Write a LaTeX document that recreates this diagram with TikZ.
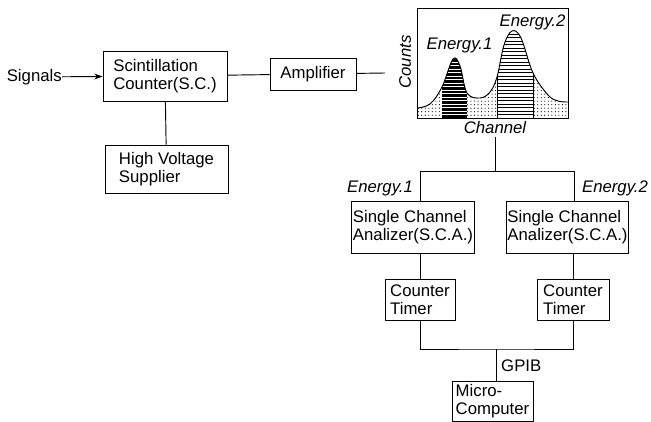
\documentclass[tikz,border=0pt]{standalone}
\usepackage{fontspec}
\setmainfont{Liberation Sans}
\usetikzlibrary{patterns,arrows.meta}
\tikzset{
  block/.style={draw,line width=0.8pt,align=left,inner sep=1pt,
    font=\fontsize{14.3}{15}\selectfont},
  wire/.style={draw,line width=0.8pt},
  tag/.style={font=\fontsize{14.3}{15}\selectfont\itshape,inner sep=0pt},
  plain/.style={font=\fontsize{14.3}{15}\selectfont,inner sep=0pt}
}

\begin{document}
\begin{tikzpicture}[x=0.03cm,y=-0.03cm]
  \useasboundingbox (0,0) rectangle (651,421);
  % front end
  \node[block,minimum width=3.72cm,minimum height=1.5cm] (sc) at (165,76)
    {Scintillation\\Counter(S.C.)};
  \node[block,minimum width=3.69cm,minimum height=1.44cm] (hv) at (166.5,169)
    {High Voltage\\Supplier};
  \node[block,minimum width=2.58cm,minimum height=0.96cm] (amp) at (313,74)
    {Amplifier};
  \node[plain,anchor=east] (sig) at (62,77) {Signals};
  \draw[wire,-{Stealth[length=7pt,width=5pt]}] (sig) -- (sc);
  \draw[wire] (sc) -- (amp);
  \draw[wire] (sc) -- (hv);
  \coordinate (ampend) at (385,73);
  \draw[wire] (amp) -- (ampend);

  % spectrum
  \begin{scope}
    \clip (417,118) -- plot[smooth,tension=0.6] coordinates {(417,108) (430,104)
      (442,87) (453,59) (460,66) (467,93) (480,98) (490,92) (497,77) (504,45)
      (512,31) (521,38) (533,73) (548,95) (558,101) (568,102)} -- (568,118) -- cycle;
    \fill[pattern=dots] (417,0) rectangle (568,118);
    \fill[black] (442,0) rectangle (467,118);
    \fill[pattern=horizontal lines,pattern color=white] (442,0) rectangle (467,118);
    \fill[white] (497,0) rectangle (533,118);
    \fill[pattern=horizontal lines] (497,0) rectangle (533,118);
  \end{scope}
  \draw[line width=0.8pt] plot[smooth,tension=0.6] coordinates {(417,108) (430,104)
      (442,87) (453,59) (460,66) (467,93) (480,98) (490,92) (497,77) (504,45)
      (512,31) (521,38) (533,73) (548,95) (558,101) (568,102)};
  \draw[line width=0.6pt] (497,77) -- (497,118) (533,73) -- (533,118);
  \draw[line width=0.8pt] (417,8) rectangle (568,118);
  \node[tag,rotate=90] (counts) at (405,62) {Counts};
  \node[tag] (peak1) at (459.5,45) {Energy.1};
  \node[tag] (peak2) at (532.5,22) {Energy.2};
  \node[tag] (channel) at (495,128) {Channel};

  % analysers
  \node[block,minimum width=3.54cm,minimum height=1.56cm] (sca1) at (413,227)
    {Single Channel\\Analizer(S.C.A.)};
  \node[block,minimum width=3.57cm,minimum height=1.56cm] (sca2) at (567.5,227)
    {Single Channel\\Analizer(S.C.A.)};
  \node[tag] (e1) at (380,188) {Energy.1};
  \node[tag] (e2) at (615,188) {Energy.2};
  \coordinate (ja) at (420,171);
  \coordinate (jb) at (574,171);
  \draw[wire] (channel.south) ++(0,3) -- (channel.south |- ja);
  \draw[wire] (ja |- sca1.north) -- (ja) -- (jb) -- (jb |- sca2.north);

  % counters
  \node[block,minimum width=2.1cm,minimum height=1.23cm] (ct1) at (420,299.5)
    {Counter\\Timer};
  \node[block,minimum width=2.16cm,minimum height=1.23cm] (ct2) at (573,299.5)
    {Counter\\Timer};
  \draw[wire] (ct1.north |- sca1.south) -- (ct1.north);
  \draw[wire] (ct2.north |- sca2.south) -- (ct2.north);
  \node[block,minimum width=2.43cm,minimum height=1.2cm] (micro) at (492.5,401)
    {Micro-\\Computer};
  \coordinate (bus) at (496,349);
  \draw[wire] (ct1.south) |- (bus) -| (ct2.south);
  \draw[wire] (bus) -- (bus |- micro.north);
  \node[plain,anchor=west] (gpib) at (501,366) {GPIB};
\end{tikzpicture}
\end{document}
